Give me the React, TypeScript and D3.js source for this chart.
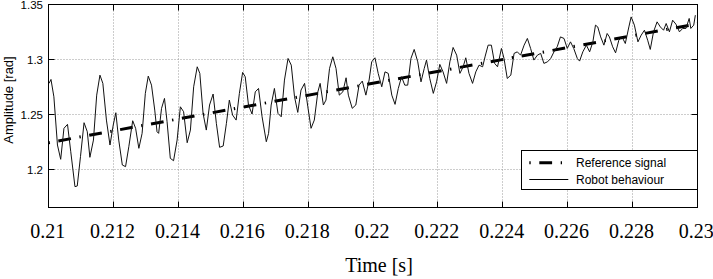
import React from 'react';
import * as d3 from 'd3';

const xTicks = [0.21, 0.212, 0.214, 0.216, 0.218, 0.22, 0.222, 0.224, 0.226, 0.228, 0.23];
const xTickLabels = ['0.21', '0.212', '0.214', '0.216', '0.218', '0.22', '0.222', '0.224', '0.226', '0.228', '0.23'];
const yTicks = [1.2, 1.25, 1.3, 1.35];
const yTickLabels = ['1.2', '1.25', '1.3', '1.35'];

const referenceTime = [0.21, 0.23];
const referenceValue = [1.2242, 1.3324];

// Robot behaviour samples: [time (s), amplitude (rad)]
const robotSamples: [number, number][] = [
  [0.21001, 1.2782], [0.21007, 1.2818], [0.21016, 1.2660], [0.21027, 1.2221], [0.21037, 1.2091],
  [0.21047, 1.2373], [0.21058, 1.2409], [0.21068, 1.2160], [0.21081, 1.1842], [0.21088, 1.1848],
  [0.21098, 1.2115], [0.21109, 1.2424], [0.21119, 1.2342], [0.21127, 1.2109], [0.21138, 1.2266],
  [0.21148, 1.2675], [0.21158, 1.2857], [0.21167, 1.2782], [0.21178, 1.2448], [0.21189, 1.2221],
  [0.21199, 1.2403], [0.21207, 1.2515], [0.21216, 1.2266], [0.21227, 1.2039], [0.21237, 1.2024],
  [0.21247, 1.2205], [0.21259, 1.2442], [0.21268, 1.2373], [0.21278, 1.2191], [0.21288, 1.2327],
  [0.21298, 1.2691], [0.21307, 1.2848], [0.21317, 1.2766], [0.21327, 1.2539], [0.21334, 1.2342],
  [0.21339, 1.2327], [0.21348, 1.2555], [0.21357, 1.2645], [0.21365, 1.2433], [0.21375, 1.2100],
  [0.21385, 1.2078], [0.21396, 1.2266], [0.21406, 1.2569], [0.21416, 1.2524], [0.21427, 1.2242],
  [0.21437, 1.2357], [0.21447, 1.2751], [0.21458, 1.2933], [0.21466, 1.2873], [0.21476, 1.2509],
  [0.21486, 1.2357], [0.21496, 1.2585], [0.21507, 1.2685], [0.21517, 1.2418], [0.21527, 1.2200],
  [0.21538, 1.2212], [0.21548, 1.2418], [0.21557, 1.2630], [0.21567, 1.2494], [0.21578, 1.2448],
  [0.21588, 1.2691], [0.21598, 1.2882], [0.21606, 1.2842], [0.21616, 1.2585], [0.21627, 1.2503],
  [0.21637, 1.2705], [0.21647, 1.2736], [0.21658, 1.2478], [0.21671, 1.2251], [0.21678, 1.2327],
  [0.21686, 1.2585], [0.21696, 1.2736], [0.21707, 1.2509], [0.21717, 1.2478], [0.21727, 1.2812],
  [0.21738, 1.3009], [0.21748, 1.2948], [0.21758, 1.2660], [0.21768, 1.2518], [0.21778, 1.2721],
  [0.21789, 1.2782], [0.21799, 1.2569], [0.21809, 1.2373], [0.21819, 1.2448], [0.21830, 1.2705],
  [0.21837, 1.2782], [0.21847, 1.2585], [0.21855, 1.2630], [0.21866, 1.2918], [0.21876, 1.3024],
  [0.21886, 1.2918], [0.21896, 1.2675], [0.21907, 1.2705], [0.21917, 1.2833], [0.21924, 1.2675],
  [0.21936, 1.2555], [0.21947, 1.2585], [0.21957, 1.2766], [0.21967, 1.2803], [0.21978, 1.2675],
  [0.21988, 1.2812], [0.21996, 1.2978], [0.22006, 1.3015], [0.22016, 1.2873], [0.22027, 1.2751],
  [0.22037, 1.2887], [0.22047, 1.2873], [0.22058, 1.2675], [0.22068, 1.2591], [0.22078, 1.2736],
  [0.22088, 1.2842], [0.22098, 1.2766], [0.22107, 1.2766], [0.22117, 1.3009], [0.22127, 1.3091],
  [0.22138, 1.2978], [0.22148, 1.2796], [0.22158, 1.2918], [0.22165, 1.2994], [0.22175, 1.2827],
  [0.22186, 1.2691], [0.22196, 1.2796], [0.22206, 1.2955], [0.22216, 1.2887], [0.22227, 1.2782],
  [0.22237, 1.2978], [0.22247, 1.3109], [0.22258, 1.3039], [0.22268, 1.2873], [0.22278, 1.2933],
  [0.22286, 1.3015], [0.22296, 1.2873], [0.22307, 1.2782], [0.22317, 1.2887], [0.22327, 1.2948],
  [0.22338, 1.2933], [0.22346, 1.3030], [0.22355, 1.3130], [0.22365, 1.3130], [0.22375, 1.2964],
  [0.22384, 1.2933], [0.22396, 1.3100], [0.22404, 1.3009], [0.22414, 1.2827], [0.22425, 1.2857],
  [0.22435, 1.3055], [0.22445, 1.3069], [0.22455, 1.3039], [0.22466, 1.3130], [0.22476, 1.3191],
  [0.22486, 1.3100], [0.22496, 1.2994], [0.22507, 1.3039], [0.22517, 1.3055], [0.22527, 1.2964],
  [0.22538, 1.2978], [0.22548, 1.3009], [0.22558, 1.3069], [0.22568, 1.3115], [0.22578, 1.3205],
  [0.22589, 1.3191], [0.22599, 1.3100], [0.22609, 1.3160], [0.22619, 1.3100], [0.22630, 1.3009],
  [0.22637, 1.2985], [0.22647, 1.3069], [0.22658, 1.3130], [0.22668, 1.3069], [0.22678, 1.3160],
  [0.22686, 1.3312], [0.22693, 1.3296], [0.22702, 1.3205], [0.22712, 1.3130], [0.22722, 1.3236],
  [0.22729, 1.3205], [0.22739, 1.3115], [0.22748, 1.3060], [0.22758, 1.3175], [0.22768, 1.3205],
  [0.22778, 1.3145], [0.22789, 1.3296], [0.22796, 1.3387], [0.22806, 1.3312], [0.22817, 1.3160],
  [0.22827, 1.3221], [0.22837, 1.3266], [0.22847, 1.3175], [0.22855, 1.3091], [0.22865, 1.3251],
  [0.22876, 1.3342], [0.22886, 1.3296], [0.22896, 1.3266], [0.22904, 1.3327], [0.22914, 1.3251],
  [0.22924, 1.3357], [0.22934, 1.3321], [0.22945, 1.3251], [0.22955, 1.3282], [0.22965, 1.3282],
  [0.22975, 1.3373], [0.22980, 1.3282], [0.22989, 1.3312], [0.22994, 1.3403],
];

const legendLabels = ['Reference signal', 'Robot behaviour'];
const xAxisTitle = 'Time [s]';
const yAxisTitle = 'Amplitude [rad]';

export default function App() {
  const W = 713;
  const H = 279;
  const left = 48.7;
  const right = 697.3;
  const top = 4.5;
  const bottom = 207.3;

  const x = d3.scaleLinear().domain([0.21, 0.23]).range([left, right]);
  const y = d3.scaleLinear().domain([1.2, 1.35]).range([169.3, 4.5]);

  const crisp = (v: number) => Math.floor(v) + 0.5;
  const fL = crisp(left);
  const fR = crisp(right);
  const fT = crisp(top);
  const fB = crisp(bottom);

  const refData = referenceTime.map((t, i) => [t, referenceValue[i]] as [number, number]);
  const line = d3.line<[number, number]>().x((d) => x(d[0])).y((d) => y(d[1]));

  const sans = 'Arial, "Liberation Sans", Helvetica, sans-serif';
  const serif = '"Times New Roman", "Liberation Serif", serif';
  const tickLen = 6;

  return (
    <div style={{ position: 'fixed', left: 0, top: 0, width: W, height: H, background: '#fff' }}>
      <svg width={W} height={H} viewBox={`0 0 ${W} ${H}`} style={{ display: 'block' }}>
        <rect x={0} y={0} width={W} height={H} fill="#fff" />
        <defs>
          <clipPath id="plotClip">
            <rect x={fL} y={fT} width={fR - fL} height={fB - fT} />
          </clipPath>
        </defs>

        {/* grid */}
        <g stroke="#9a9a9a" strokeWidth={1} strokeDasharray="1 2">
          {xTicks.slice(1, -1).map((t) => (
            <line key={'gx' + t} x1={crisp(x(t))} x2={crisp(x(t))} y1={fT} y2={fB} />
          ))}
          {yTicks.filter((v) => v < 1.349).map((v) => (
            <line key={'gy' + v} x1={fL} x2={fR} y1={crisp(y(v))} y2={crisp(y(v))} />
          ))}
        </g>

        {/* data */}
        <g clipPath="url(#plotClip)">
          <path
            d={line(refData) || ''}
            fill="none"
            stroke="#000"
            strokeWidth={3}
            strokeDasharray="12.8 8.6 1.4 8.6"
            strokeDashoffset={21.6}
          />
          <path d={line(robotSamples) || ''} fill="none" stroke="#111" strokeWidth={1} strokeLinejoin="round" />
        </g>

        {/* ticks */}
        <g stroke="#000" strokeWidth={1}>
          {xTicks.slice(1, -1).map((t) => (
            <g key={'tx' + t}>
              <line x1={crisp(x(t))} x2={crisp(x(t))} y1={fB} y2={fB - tickLen} />
              <line x1={crisp(x(t))} x2={crisp(x(t))} y1={fT} y2={fT + tickLen} />
            </g>
          ))}
          {yTicks.filter((v) => v < 1.349).map((v) => (
            <g key={'ty' + v}>
              <line x1={fL} x2={fL + tickLen} y1={crisp(y(v))} y2={crisp(y(v))} />
              <line x1={fR} x2={fR - tickLen} y1={crisp(y(v))} y2={crisp(y(v))} />
            </g>
          ))}
        </g>

        {/* frame */}
        <rect x={fL} y={fT} width={fR - fL} height={fB - fT} fill="none" stroke="#000" strokeWidth={1} />

        {/* x tick labels */}
        <g fontFamily={serif} fontSize={20} fill="#000" textAnchor="middle">
          {xTicks.map((t, i) => (
            <text key={'lx' + t} x={x(t) - 1} y={238}>
              {xTickLabels[i]}
            </text>
          ))}
        </g>

        {/* y tick labels */}
        <g fontFamily={sans} fontSize={11.5} fill="#000" textAnchor="end">
          {yTicks.map((v, i) => (
            <text key={'ly' + v} x={43} y={y(v) + 4.2}>
              {yTickLabels[i]}
            </text>
          ))}
        </g>

        {/* axis titles */}
        <text x={379} y={272} fontFamily={serif} fontSize={20} textAnchor="middle" fill="#000">
          {xAxisTitle}
        </text>
        <text
          transform={`translate(13,100) rotate(-90)`}
          fontFamily={sans}
          fontSize={13}
          textAnchor="middle"
          fill="#000"
        >
          {yAxisTitle}
        </text>

        {/* legend */}
        <g>
          <rect x={521.5} y={150.5} width={fR - 521.5} height={39} fill="#fff" stroke="#000" strokeWidth={1} />
          <line x1={529.3} x2={562} y1={162.7} y2={162.7} stroke="#000" strokeWidth={3} strokeDasharray="1.4 8.6 12.8 8.6" />
          <line x1={529.3} x2={568.3} y1={179.5} y2={179.5} stroke="#000" strokeWidth={1} />
          <text x={576} y={166.5} fontFamily={sans} fontSize={12} fill="#000">
            {legendLabels[0]}
          </text>
          <text x={576} y={184} fontFamily={sans} fontSize={12} fill="#000">
            {legendLabels[1]}
          </text>
        </g>
      </svg>
    </div>
  );
}
